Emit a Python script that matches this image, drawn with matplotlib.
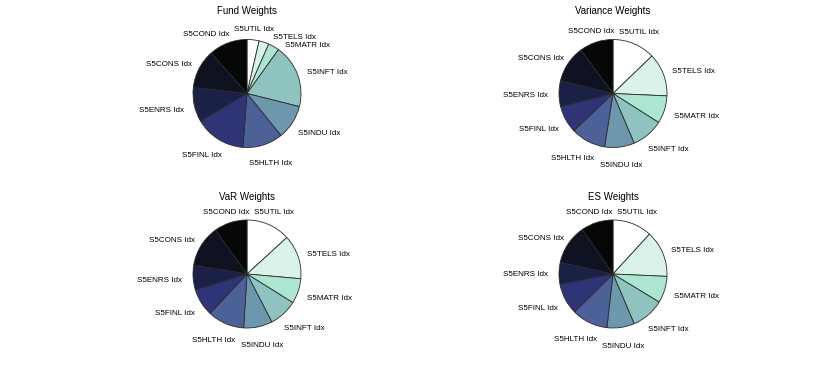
import numpy as np
import matplotlib.pyplot as plt
import matplotlib.transforms as mtransforms

plt.rcParams['font.family'] = ['Liberation Sans', 'DejaVu Sans']

# sectors in clockwise order starting at 12 o'clock
sectors = ['S5UTIL Idx', 'S5TELS Idx', 'S5MATR Idx', 'S5INFT Idx', 'S5INDU Idx',
           'S5HLTH Idx', 'S5FINL Idx', 'S5ENRS Idx', 'S5CONS Idx', 'S5COND Idx']

fund_w = [3.6, 3.0, 3.3, 19.0, 10.3, 12.0, 15.3, 10.3, 11.7, 11.5]
var_w = [12.8, 12.9, 8.3, 9.6, 8.9, 10.4, 8.2, 7.8, 11.0, 10.1]
vaR_w = [13.2, 13.2, 7.5, 8.5, 8.6, 11.0, 8.3, 7.3, 12.5, 9.9]
es_w = [11.8, 13.9, 8.0, 9.9, 8.2, 10.8, 9.4, 6.5, 11.9, 9.6]

titles = ['Fund Weights', 'Variance Weights', 'VaR Weights', 'ES Weights']

colors = ['#ffffff', '#daf3ea', '#ade6d0', '#8ec3bf', '#6d97ad', '#4c6198',
          '#2f3477', '#1b2146', '#0f1220', '#060807']

W, H = 830, 383
R = 54.0        # pie radius in pixels
L = 1.7         # half axis range in data units

fig = plt.figure(figsize=(W / 100, H / 100), dpi=100)

centers = [(247, 93.5), (613, 93.5), (247, 274), (613, 274)]
title_y = [11, 11, 196.5, 196.5]
allw = [fund_w, var_w, vaR_w, es_w]

side = 2 * L * R
labels_all = []
for (cx, cy), ty, w, tt in zip(centers, title_y, allw, titles):
    ax = fig.add_axes([(cx - side / 2) / W, (H - cy - side / 2) / H, side / W, side / H])
    ax.pie(w, colors=colors, startangle=90, counterclock=False,
           wedgeprops=dict(edgecolor='#2a2a2a', linewidth=0.6))
    ax.set_xlim(-L, L)
    ax.set_ylim(-L, L)
    ax.set_aspect('equal')
    ax.axis('off')
    ax.text(0.5, (cy - ty) / side + 0.5, tt, transform=ax.transAxes,
            ha='center', va='center', fontsize=7)

    frac = np.asarray(w, dtype=float) / np.sum(w)
    ends = 90 - 360 * np.cumsum(frac)
    mids = np.deg2rad(ends + 180 * frac)
    tl = []
    for m, lab in zip(mids, sectors):
        t = ax.text(1.2 * np.cos(m), 1.2 * np.sin(m), lab, ha='center', va='center',
                    fontsize=5.8)
        tl.append((t, m))
    labels_all.append((ax, tl))


def hits_pie(bb, c):
    nx = min(max(c[0], bb.x0), bb.x1)
    ny = min(max(c[1], bb.y0), bb.y1)
    return np.hypot(nx - c[0], ny - c[1]) < R + 4


def padded(bb):
    return mtransforms.Bbox.from_extents(bb.x0 - 4, bb.y0 - 1, bb.x1 + 4, bb.y1 + 1)


# move labels off the pie and off each other
fig.canvas.draw()
r = fig.canvas.get_renderer()
for ax, tl in labels_all:
    c = ax.transData.transform((0, 0))
    placed = []
    for t, m in tl:
        bb = t.get_window_extent(r)
        s, co = np.cos(m), np.sin(m)   # x and y direction of the slice middle
        if co >= 0:
            k = np.clip((abs(s) - 0.4) / 0.45, 0, 1)
        else:
            k = np.clip(abs(s) * 2.2, 0, 1)
        dx = s * bb.width / 2 * k
        dy = -(2 + 6 * max(0, -co) - 2 * max(0, co))
        bb = bb.translated(dx, dy)
        # sideways direction along the rim, always heading outwards in x
        tx, ty = co, -s
        if np.sign(tx) != (1 if s >= 0 else -1):
            tx, ty = -tx, -ty
        for _ in range(300):
            if any(padded(bb).overlaps(pb) for pb in placed):
                mv = (tx * 0.5, ty * 0.5)
            elif hits_pie(bb, c):
                mv = (s * 0.5, co * 0.5)
            else:
                break
            dx += mv[0]
            dy += mv[1]
            bb = bb.translated(mv[0], mv[1])
        placed.append(bb)
        t.set_transform(ax.transData + mtransforms.ScaledTranslation(
            dx / fig.dpi, dy / fig.dpi, fig.dpi_scale_trans))

fig.savefig('out.png', dpi=100)
